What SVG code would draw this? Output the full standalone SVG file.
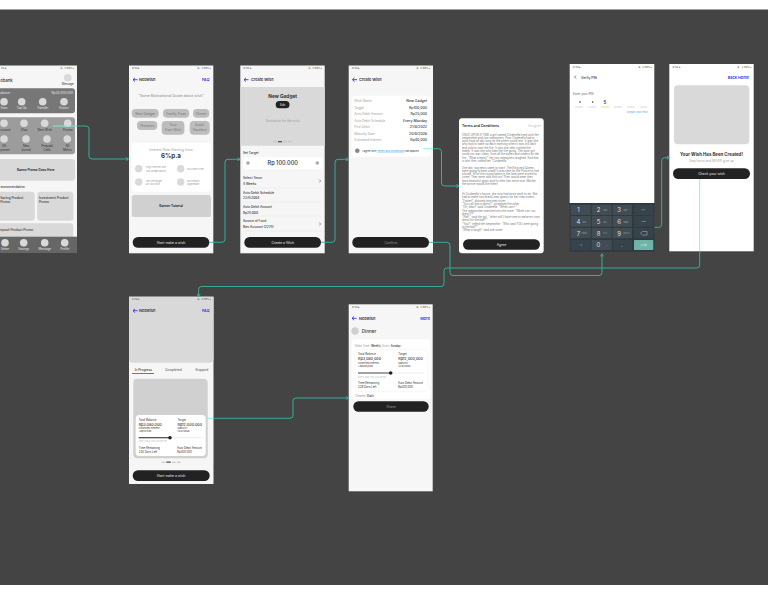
<svg xmlns="http://www.w3.org/2000/svg" width="768" height="594" viewBox="0 0 768 594">
<style>
text{font-family:"Inter","Liberation Sans",sans-serif;fill:#333;font-size:3.2px}
.f{fill:#f6f6f6}.w{fill:#fff}.g{fill:#d9d9d9}.btn{fill:#222}
text.st{font-size:2.700px;fill:#555}.m{text-anchor:middle}.e{text-anchor:end}
.b{font-weight:700}.sb{font-weight:500}text.l{fill:#a0a0a0}text.wt{fill:#e8e8e8}text.bl{fill:#3434e6;font-weight:600;font-size:3.900px}
text.bt{fill:#e8e8e8;font-size:3.400px;text-anchor:middle}
text.chip{fill:#777;font-size:3.400px;text-anchor:middle}
text.sm{fill:#999;font-size:2.500px}
text.lab{font-size:2.800px}text.amt{font-size:3.700px;font-weight:500}text.mini{font-size:2.500px}text.hint{font-size:2.300px;fill:#bbb}
text.nav{font-size:2.900px;fill:#e8e8e8;text-anchor:middle}
text.row{font-size:3.500px;font-weight:500;text-anchor:end}
text.hd{font-size:3.800px;font-weight:600}
.back{stroke:#3434e6;stroke-width:.9;fill:none}
.c{fill:none;stroke:#35b8a2;stroke-width:.9;stroke-linejoin:round}
.c2{fill:none;stroke:#7ff0dc;stroke-width:.9}
.k{fill:#414d53}text.kt{fill:#dde;text-anchor:middle;font-size:6px}text.ks{fill:#9aa;font-size:2px}
text.t{font-size:2.800px;fill:#777}
</style>
<defs>
<marker id="ah" viewBox="0 0 6 6" refX="5" refY="3" markerWidth="4" markerHeight="4" markerUnits="userSpaceOnUse" orient="auto"><path d="M1 .5L5 3L1 5.500" fill="none" stroke="#35b8a2" stroke-width="1.300"/></marker>
</defs>
<rect width="768" height="594" fill="#fff"/>
<rect y="9.500" width="768" height="575.500" fill="#444"/>

<g id="frame-home">
<rect x="-10" y="65.500" width="87" height="187.500" class="f"/>
<text x="74" y="68.800" class="st e">⇅ .ıl 89%▪</text>
<text x="1" y="68.800" class="st">32 ▸</text>
<text x="0.300" y="81.500" class="sb" style="font-size:4.200px">obank</text>
<circle cx="67.700" cy="77.700" r="3.800" class="g"/><text x="67.700" y="85" class="m" style="font-size:2.800px">Message</text>
<rect x="-10" y="88.300" width="85" height="25" rx="3" fill="#777"/>
<text x="0.300" y="94.200" class="wt">alance</text><text x="73" y="94.200" class="e wt">Rp28.000.000</text>
<g class="g"><circle cx="4" cy="101.700" r="3.800"/><circle cx="21.700" cy="101.700" r="3.800"/><circle cx="42.700" cy="101.700" r="3.800"/><circle cx="64" cy="101.700" r="3.800"/></g>
<text x="4" y="109.300" class="nav">Scan</text><text x="21.700" y="109.300" class="nav">Top Up</text><text x="42.700" y="109.300" class="nav">Transfer</text><text x="64" y="109.300" class="nav">History</text>
<rect x="-10" y="117.300" width="85" height="37" rx="3" fill="#9c9c9c"/>
<g class="g"><circle cx="4" cy="123.300" r="3.800"/><circle cx="24" cy="123.300" r="3.800"/><circle cx="44.700" cy="123.300" r="3.800"/><circle cx="67.700" cy="123.300" r="3.800"/><circle cx="4" cy="139" r="3.800"/><circle cx="26" cy="139" r="3.800"/><circle cx="47" cy="139" r="3.800"/><circle cx="67.300" cy="139" r="3.800"/></g>
<text x="0.300" y="131">ccount</text><text x="24" y="131" class="m">Vlaz</text><text x="44.700" y="131" class="m">Neo Wish</text><text x="67.700" y="131" class="m">Promo</text>
<text x="4" y="147" class="m">VA</text><text x="0.300" y="151">yment</text><text x="26" y="147" class="m">Neo</text><text x="26" y="151" class="m">Jurnal</text><text x="47" y="147" class="m">Prepaid</text><text x="47" y="151" class="m">Calls</text><text x="67.300" y="147" class="m">All</text><text x="67.300" y="151" class="m">Menu</text>
<rect x="-10" y="159" width="85" height="21.700" rx="3" class="g"/>
<text x="35.700" y="171" class="m b">Banne Promo Goes Here</text>
<text x="25" y="188.400" class="e sb">ecommendation</text>
<rect x="-10" y="191.700" width="44.700" height="29" rx="3" class="g"/>
<rect x="37.300" y="191.700" width="36" height="29" rx="3" class="g"/>
<text x="0.300" y="198.800" class="sb">Saving Product</text><text x="0.300" y="203.300" class="sb">Promo</text>
<text x="39" y="198.800" class="sb">Investment Product</text><text x="39" y="203.300" class="sb">Promo</text>
<rect x="-10" y="223.300" width="83.300" height="15" rx="3" class="g"/>
<text x="0.300" y="230.500" class="sb">eposit Product Promo</text>
<rect x="-10" y="236.700" width="87" height="16.300" fill="#666"/>
<g class="g"><circle cx="5" cy="242.700" r="3.800"/><circle cx="23.700" cy="242.700" r="3.800"/><circle cx="44.700" cy="242.700" r="3.800"/><circle cx="64.700" cy="242.700" r="3.800"/></g>
<text x="5" y="250" class="nav">Home</text><text x="23.700" y="250" class="nav">Savings</text><text x="44.700" y="250" class="nav">Message</text><text x="64.700" y="250" class="nav">Profile</text>
</g>

<g id="frame-neowish">
<rect x="129" y="65.500" width="84.300" height="187.800" class="f"/>
<text x="132" y="69" class="st">6:32 ▸</text><text x="211" y="69" class="st e">⇅ .ıl 89%▪</text>
<path class="back" d="M137.500 79.700H133M135 77.800L133 79.700L135 81.600"/>
<text x="139" y="81.200" class="hd" style="font-size:3.900px">Neowish</text><text x="209.500" y="81.200" class="e bl">FAQ</text>
<text x="171" y="97" class="m" style="fill:#888;font-size:3.600px">"Some Motivational Quote about wish"</text>
<g fill="#bdbdbd"><rect x="131.700" y="109" width="27" height="8.700" rx="4"/><rect x="163" y="109" width="26.300" height="8.700" rx="4"/><rect x="193" y="109" width="16.300" height="8.700" rx="4"/><rect x="137" y="121" width="20.300" height="9" rx="4"/><rect x="161.700" y="121" width="22.700" height="13.700" rx="4"/><rect x="189.700" y="121" width="20" height="13.700" rx="4"/></g>
<text x="145.200" y="114.600" class="chip">New Gadget</text><text x="176.100" y="114.600" class="chip">Family Treat</text><text x="201.200" y="114.600" class="chip">Dinner</text><text x="147.200" y="126.700" class="chip">Presents</text><text x="173" y="126.400" class="chip">Your</text><text x="173" y="131.400" class="chip">Own Wish</text><text x="199.700" y="126.400" class="chip">Quick</text><text x="199.700" y="131.400" class="chip">Vacation</text>
<rect x="131.700" y="143" width="79.300" height="48.700" rx="3" class="w"/>
<text x="171" y="150.500" class="m l" style="font-size:3.500px">Interest Rate Starting from</text>
<text x="171" y="158" class="m b" style="font-size:6.200px">6%p.a</text>
<g class="g"><circle cx="138.700" cy="168.700" r="3.700"/><circle cx="180.700" cy="168.700" r="3.700"/><circle cx="138.700" cy="182" r="3.700"/><circle cx="180.700" cy="182" r="3.700"/></g>
<text x="146" y="167.800" class="sm">High interest like</text><text x="146" y="171.500" class="sm">you dream about</text><text x="187" y="170" class="sm">No Admin Fee</text><text x="146" y="181.500" class="sm">Set the target</text><text x="146" y="185" class="sm">as you wish</text><text x="187" y="181.500" class="sm">No Penalty</text><text x="187" y="185" class="sm">Nightmare</text>
<rect x="131.700" y="195" width="79.300" height="22" rx="2.500" fill="#d0d0d0"/>
<text x="171" y="207.200" class="m b">Banner Tutorial</text>
<rect x="132.700" y="237" width="76.600" height="10.700" rx="5.300" class="btn"/>
<text x="171" y="243.600" class="bt">Start make a wish</text>
</g>

<g id="frame-create-wish">
<rect x="240.300" y="65.500" width="84.400" height="187.800" class="f"/>
<text x="243.500" y="69" class="st">6:32 ▸</text><text x="322" y="69" class="st e">⇅ .ıl 89%▪</text>
<path class="back" d="M248.500 79.700H244M246 77.800L244 79.700L246 81.600"/>
<text x="251" y="81.100" class="hd">Create Wish</text>
<rect x="240.300" y="87" width="84.400" height="58.700" class="g"/>
<text x="282.700" y="97.500" class="m b" style="font-size:4.800px">New Gadget</text>
<rect x="275.700" y="101" width="13.800" height="7.300" rx="3.600" class="btn"/><text x="282.600" y="105.700" class="m wt" style="font-size:3px">Edit</text>
<text x="282.700" y="122" class="m l">Illustration for the wish</text>
<g fill="#bbb"><rect x="273.300" y="141.300" width="3.700" height=".9"/><rect x="283" y="141.300" width="3.700" height=".9"/><rect x="288" y="141.300" width="3.700" height=".9"/></g><rect x="278" y="141" width="4" height="1.300" fill="#555"/>
<text x="243" y="154.300" class="sb">Set Target</text>
<rect x="243" y="157" width="80" height="12" rx="3.500" class="w"/>
<circle cx="248" cy="163" r="1.800" fill="#aaa"/><circle cx="317.300" cy="163" r="1.800" fill="#aaa"/>
<text x="282.700" y="165" class="m sb" style="font-size:5.600px">Rp 100.000</text>
<text x="243" y="179.400" class="sb">Select Tenor</text><text x="243" y="185" class="sb">4 Weeks</text>
<text x="243" y="193.700" class="sb">Auto Debit Schedule</text><text x="243" y="199.300" class="sb">22/8/2004</text>
<text x="243" y="208" class="sb">Auto Debit Amount</text><text x="243" y="213.700" class="sb">Rp28.000</text>
<text x="243" y="222.300" class="sb">Source of Fund</text><text x="243" y="227.900" class="sb">Neo Account (2278)</text>
<path d="M319.200 179.500L320.700 181L319.200 182.500M319.200 222.500L320.700 224L319.200 225.500" fill="none" stroke="#555" stroke-width=".6"/>
<path d="M243 188H322M243 202H322M243 216H322M243 231H322" stroke="#e6e6e6" stroke-width=".4"/>
<rect x="244.300" y="237" width="76.700" height="10.700" rx="5.300" class="btn"/>
<text x="282.700" y="243.600" class="bt">Create a Wish</text>
</g>

<g id="frame-confirm">
<rect x="348.700" y="65.500" width="84.300" height="187.800" class="f"/>
<text x="352" y="69" class="st">6:32 ▸</text><text x="430" y="69" class="st e">⇅ .ıl 89%▪</text>
<path class="back" d="M357 79.700H352.500M354.500 77.800L352.500 79.700L354.500 81.600"/>
<text x="359" y="81.100" class="hd">Create Wish</text>
<rect x="351.700" y="95.700" width="79.300" height="61" rx="3.500" class="w"/>
<text x="354.300" y="102" class="l">Wish Name</text><text x="354.300" y="108.500" class="l">Target</text><text x="354.300" y="115" class="l">Auto Debit Amount</text><text x="354.300" y="121.500" class="l">Auto Debit Schedule</text><text x="354.300" y="128.200" class="l">First Debit</text><text x="354.300" y="134.600" class="l">Maturity Date</text><text x="354.300" y="141.200" class="l">Estimated Interest</text>
<text x="427" y="102" class="row">New Gadget</text><text x="427" y="108.500" class="row">Rp100,000</text><text x="427" y="115" class="row">Rp25,000</text><text x="427" y="121.500" class="row">Every Monday</text><text x="427" y="128.200" class="row">21/8/2022</text><text x="427" y="134.600" class="row">20/8/2026</text><text x="427" y="141.200" class="row">Rp40,000</text>
<circle cx="357.300" cy="150.700" r="2.300" fill="#888"/>
<text x="362" y="151.700" style="font-size:2.600px">I agree with <tspan fill="#2f9be8" text-decoration="underline">Terms and Conditions</tspan> that applies.</text>
<rect x="352.300" y="237" width="76.700" height="10.700" rx="5.300" class="btn"/>
<text x="390.700" y="243.600" class="bt" style="fill:#999">Confirm</text>
</g>

<g id="frame-terms">
<rect x="459" y="118.300" width="84.700" height="135" rx="3" class="w"/>
<text x="462" y="127.300" class="hd" style="font-size:3.500px">Terms and Conditions</text><text x="541" y="127.300" class="e" style="fill:#c4c4c4">Disagree</text>
<text x="462" y="135.500" class="t">ONCE UPON A TIME a girl named Cinderella lived with her</text>
<text x="462" y="138.800" class="t">stepmother and two stepsisters. Poor Cinderella had to</text>
<text x="462" y="142.100" class="t">work hard all day long so the others could rest. It was she</text>
<text x="462" y="145.400" class="t">who had to wake up each morning when it was still dark</text>
<text x="462" y="148.700" class="t">and cold to start the fire. It was she who cooked the</text>
<text x="462" y="152" class="t">meals. It was she who kept the fire going. The poor girl</text>
<text x="462" y="155.300" class="t">could not stay clean, from all the ashes and cinders by the</text>
<text x="462" y="158.600" class="t">fire. "What a mess!" her two stepsisters laughed. And that</text>
<text x="462" y="161.900" class="t">is why they called her "Cinderella."</text>
<text x="462" y="168.500" class="t">One day, big news came to town. The King and Queen</text>
<text x="462" y="171.800" class="t">were going to have a ball! It was time for the Prince to find</text>
<text x="462" y="175.100" class="t">a bride. All of the young ladies in the land were invited to</text>
<text x="462" y="178.400" class="t">come. They were wild with joy! They would wear their</text>
<text x="462" y="181.700" class="t">most beautiful gown and fix their hair extra nice. Maybe</text>
<text x="462" y="185" class="t">the prince would like them!</text>
<text x="462" y="195" class="t">At Cinderella's house, she now had extra work to do. She</text>
<text x="462" y="198.300" class="t">had to make two brand-new gowns for her step sisters.</text>
<text x="462" y="201.600" class="t">"Faster!" shouted one step sister.</text>
<text x="462" y="204.900" class="t">"You call that a dress?" screamed the other.</text>
<text x="462" y="208.200" class="t">"Oh, dear!" said Cinderella. "When can I-"</text>
<text x="462" y="211.500" class="t">The stepmother marched into the room. "When can you</text>
<text x="462" y="214.800" class="t">dress?!?"</text>
<text x="462" y="218.100" class="t">"Well," said the girl, "when will I have time to make my own</text>
<text x="462" y="221.400" class="t">dress for the ball?"</text>
<text x="462" y="224.700" class="t">"You?" yelled the stepmother. "Who said YOU were going</text>
<text x="462" y="228" class="t">to the ball?"</text>
<text x="462" y="231.300" class="t">"What a laugh!" said one sister.</text>
<rect x="463" y="239.300" width="77" height="10.400" rx="5.200" class="btn"/>
<text x="501.500" y="245.700" class="bt">Agree</text>
</g>

<g id="frame-verify-pin">
<rect x="569.700" y="64" width="84.600" height="139" class="w"/>
<text x="573" y="67.500" class="st">6:32 ▸</text><text x="652" y="67.500" class="st e">⇅ .ıl 89%▪</text>
<path d="M576 75.500L574.500 77L576 78.500" fill="none" stroke="#444" stroke-width=".7"/>
<text x="581" y="78.900" class="sb" style="font-size:3.300px">Verify PIN</text>
<text x="573" y="94.600" style="fill:#666;font-size:3px">Enter your PIN</text>
<circle cx="580" cy="102" r=".8" fill="#333"/><circle cx="592.700" cy="102" r=".8" fill="#333"/>
<text x="605" y="103.600" class="m sb" style="font-size:4.600px">5</text>
<g stroke="#d9d9d9" stroke-width="1"><path d="M575 107H583M588.500 107H596M614 107H622M627 107H635M640 107H647"/><path d="M601 107H609" stroke="#f2d98a"/></g>
<text x="648" y="113" class="e" style="fill:#4aa8e0;font-size:2.700px">Forgot your PIN?</text>
<rect x="569.700" y="203" width="84.600" height="48.700" fill="#2e3a40"/>
<g class="k"><rect x="570.700" y="204.700" width="20" height="10.300" rx=".8"/><rect x="591.700" y="204.700" width="20" height="10.300" rx=".8"/><rect x="612.700" y="204.700" width="19.300" height="10.300" rx=".8"/><rect x="634" y="204.700" width="19.300" height="10.300" rx=".8" fill="#36434a"/>
<rect x="570.700" y="216" width="20" height="10.700" rx=".8"/><rect x="591.700" y="216" width="20" height="10.700" rx=".8"/><rect x="612.700" y="216" width="19.300" height="10.700" rx=".8"/><rect x="634" y="216" width="19.300" height="10.700" rx=".8" fill="#36434a"/>
<rect x="570.700" y="228" width="20" height="10.300" rx=".8"/><rect x="591.700" y="228" width="20" height="10.300" rx=".8"/><rect x="612.700" y="228" width="19.300" height="10.300" rx=".8"/><rect x="634" y="228" width="19.300" height="10.300" rx=".8" fill="#36434a"/>
<rect x="570.700" y="240" width="20" height="10" rx=".8" fill="#36434a"/><rect x="591.700" y="240" width="20" height="10" rx=".8"/><rect x="612.700" y="240" width="19.300" height="10" rx=".8" fill="#36434a"/><rect x="634" y="240" width="19.300" height="10" rx=".8" fill="#6db5a8"/></g>
<text x="578.500" y="212.300" class="kt">1</text><text x="598.500" y="212.300" class="kt">2</text><text x="619" y="212.300" class="kt">3</text>
<text x="578.500" y="223.700" class="kt">4</text><text x="598.500" y="223.700" class="kt">5</text><text x="619" y="223.700" class="kt">6</text>
<text x="578.500" y="235.500" class="kt">7</text><text x="598.500" y="235.500" class="kt">8</text><text x="619" y="235.500" class="kt">9</text>
<text x="598.500" y="247.300" class="kt">0</text>
<text x="603" y="211" class="ks">ABC</text><text x="623.500" y="211" class="ks">DEF</text>
<text x="582.500" y="222.500" class="ks">GHI</text><text x="603" y="222.500" class="ks">JKL</text><text x="623.500" y="222.500" class="ks">MNO</text>
<text x="581.500" y="234" class="ks">PQRS</text><text x="603" y="234" class="ks">TUV</text><text x="623.500" y="234" class="ks">WXYZ</text>
<text x="580.500" y="246" class="m ks">* #</text><text x="606" y="246" class="ks">+</text><text x="622" y="247" class="m wt" style="font-size:4px">.</text>
<path d="M641.500 209.800H645M641.500 221.500H646" stroke="#aab" stroke-width=".5"/>
<path d="M640.500 233.200L642.500 231.500H647V235H642.500Z" fill="none" stroke="#aab" stroke-width=".6"/>
<path d="M640.500 245H646.500M644.800 243.500L646.500 245L644.800 246.500" fill="none" stroke="#eee" stroke-width=".5"/>
</g>

<g id="frame-created">
<rect x="669.300" y="64" width="84.400" height="187.300" class="w"/>
<text x="672.500" y="67.500" class="st">6:32 ▸</text><text x="751.500" y="67.500" class="st e">⇅ .ıl 89%▪</text>
<text x="749" y="79.300" class="e bl">Back Home</text>
<rect x="674" y="85.300" width="75.300" height="59" rx="4" class="g"/>
<text x="711.500" y="155.500" class="m b" style="font-size:4.400px">Your Wish Has Been Created!</text>
<text x="711.500" y="161.800" class="m l" style="font-size:3.100px">Stay focus and NEVER give up</text>
<rect x="673" y="168.300" width="77" height="10.700" rx="5.300" class="btn"/>
<text x="711.500" y="175" class="bt">Check your wish</text>
</g>

<g id="frame-neowish-list">
<rect x="129" y="296.700" width="84.500" height="187.300" class="f"/>
<path d="M129 296.700H213.500V358.700a4 4 0 0 1-4 4H133a4 4 0 0 1-4-4Z" class="g"/>
<text x="132" y="300.300" class="st">6:32 ▸</text><text x="211" y="300.300" class="st e">⇅ .ıl 89%▪</text>
<path class="back" d="M137.500 310.700H133M135 308.800L133 310.700L135 312.600"/>
<text x="139" y="312.200" class="hd" style="font-size:3.900px">Neowish</text><text x="209.500" y="312.200" class="e bl">FAQ</text>
<text x="143.300" y="371" class="m sb">In Progress</text><text x="173.300" y="371" class="m sb" style="fill:#666">Completed</text><text x="201.700" y="371" class="m sb" style="fill:#666">Stopped</text>
<rect x="132" y="373" width="22" height=".8" fill="#555"/>
<rect x="133.300" y="378.700" width="74.400" height="79.600" rx="4" fill="#d0d0d0"/>
<rect x="135.700" y="415" width="70" height="41" rx="3.500" class="w"/>
<text x="138.700" y="421" class="lab">Total Balance</text><text x="138.700" y="425.600" class="amt">Rp3.080.000</text><text x="138.700" y="429" class="mini">Collected Interest</text><text x="138.700" y="432.300" class="mini">+Rp12.000</text>
<text x="177.500" y="421" class="lab">Target</text><text x="177.500" y="425.600" class="amt">Rp12.000.000</text><text x="177.500" y="429" class="mini">Maturity</text><text x="177.500" y="432.300" class="mini">12/8/2026</text>
<path d="M170 437.700H202" stroke="#eee" stroke-width="1.200"/><path d="M138.700 437.700H170" stroke="#444" stroke-width="1.200"/><circle cx="170" cy="437.700" r="1.800" fill="#222"/>
<text x="138.700" y="442.300" class="hint">Don't stop until you arrive</text>
<text x="138.700" y="449" class="lab">Time Remaining</text><text x="138.700" y="453" class="lab">234 Days Left</text>
<text x="177" y="449" class="lab">Auto Debit Amount</text><text x="177" y="453" class="lab">Rp500.000</text>
<g fill="#bbb"><rect x="161.500" y="461.800" width="3.700" height=".9"/><rect x="172" y="461.800" width="3.700" height=".9"/><rect x="177" y="461.800" width="3.700" height=".9"/></g><rect x="166.300" y="461.500" width="4.500" height="1.300" fill="#555"/>
<rect x="132.700" y="470.300" width="77" height="10.700" rx="5.300" class="btn"/>
<text x="171" y="477" class="bt">Start make a wish</text>
</g>

<g id="frame-detail">
<rect x="348.700" y="304.300" width="84" height="187" class="f"/>
<text x="352" y="308" class="st">6:32 ▸</text><text x="430" y="308" class="st e">⇅ .ıl 89%▪</text>
<path class="back" d="M356.500 318.300H352M354 316.400L352 318.300L354 320.200"/>
<text x="359" y="319.800" class="hd" style="font-size:3.900px">Neowish</text><text x="430" y="319.800" class="e bl">More</text>
<circle cx="355" cy="331" r="3.700" fill="#d0d0d0"/><text x="361.700" y="332.700" class="sb" style="font-size:4.600px">Dinner</text>
<rect x="351.700" y="339.300" width="78.600" height="60" rx="3.500" class="w"/>
<text x="355" y="346.600" style="font-size:2.800px;fill:#999">Debit Time: <tspan class="sb" fill="#333">Weekly</tspan>, Every <tspan class="sb" fill="#333">Sunday</tspan></text>
<rect x="355" y="349.300" width="73" height="42.400" rx="3.500" class="w" stroke="#eee" stroke-width=".5"/>
<text x="358" y="355.300" class="lab">Total Balance</text><text x="358" y="360.200" class="amt">Rp3,080,000</text><text x="358" y="363.600" class="mini">Collected Interest</text><text x="358" y="367" class="mini">+Rp200,000</text>
<text x="398.300" y="355.300" class="lab">Target</text><text x="398.300" y="360.200" class="amt">Rp12,000,000</text><text x="398.300" y="363.600" class="mini">Maturity</text><text x="398.300" y="367" class="mini">12/8/2026</text>
<path d="M390.700 373H424" stroke="#eee" stroke-width="1"/><path d="M358 373H390.700" stroke="#444" stroke-width="1"/><circle cx="390.700" cy="373" r="1.800" fill="#222"/>
<text x="358" y="377.500" class="hint">Don't stop until you arrive</text>
<text x="358" y="384.300" class="lab">Time Remaining</text><text x="358" y="388.300" class="lab">228 Days Left</text>
<text x="398" y="384.300" class="lab">Auto Debit Amount</text><text x="398" y="388.300" class="lab">Rp500,000</text>
<text x="355" y="397" style="fill:#999;font-size:2.800px">Created: <tspan class="sb" fill="#333">Daily</tspan></text>
<rect x="353.300" y="401.300" width="75.400" height="10.400" rx="5.200" class="btn"/>
<text x="391" y="407.700" class="bt" style="fill:#999">Share</text>
</g>

<g id="connectors">
<path class="c2" d="M53 126H76"/>
<path class="c" d="M76 126H86q3 0 3 3V156q0 3 3 3H128.500" marker-end="url(#ah)"/>
<path class="c" d="M209.300 242.300H222q3 0 3-3V162.300q0-3 3-3H240" marker-end="url(#ah)"/>
<path class="c" d="M321 242.300H332q3 0 3-3V162.300q0-3 3-3H348.500" marker-end="url(#ah)"/>
<path class="c2" d="M423.300 148.700H433"/>
<path class="c" d="M433 148.700H438.500q3 0 3 3V183q0 3 3 3H459" marker-end="url(#ah)"/>
<path class="c" d="M429 242.300H447q3 0 3 3V272.500q0 3 3 3H599q3 0 3-3V253.800" marker-end="url(#ah)"/>
<path class="c" d="M654.300 227.300H658.700q3 0 3-3V160.700q0-3 3-3H669.300" marker-end="url(#ah)"/>
<path class="c2" d="M699.700 179V251.300"/>
<path class="c" d="M699.700 251.300V265q0 3-3 3H447q-3 0-3 3V283.500q0 3-3 3H201.600q-3 0-3 3V296.500" marker-end="url(#ah)"/>
<path class="c2" d="M206 418.300H213.500"/>
<path class="c" d="M213.500 418.300H290q3 0 3-3V401q0-3 3-3H348.500" marker-end="url(#ah)"/>
</g>
</svg>
